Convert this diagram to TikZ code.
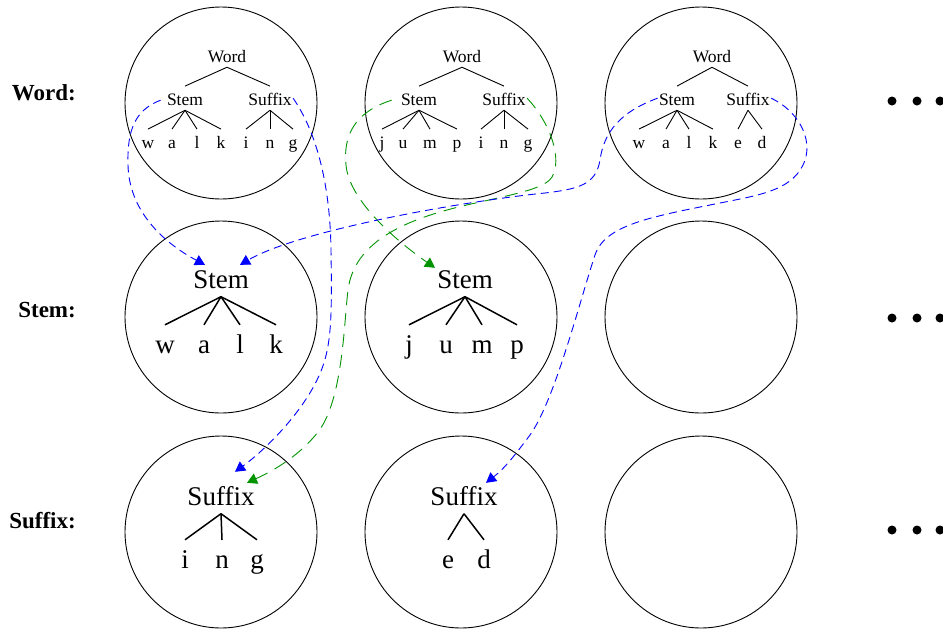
\documentclass[tikz,border=0pt]{standalone}
\usepackage{fontspec}
\setmainfont{Liberation Serif}
\usetikzlibrary{arrows.meta,calc}
\definecolor{linkblue}{rgb}{0,0,1}
\definecolor{linkgreen}{rgb}{0,0.58,0}
\begin{document}
\begin{tikzpicture}[x=1pt,y=-1pt,
  cell/.style={draw, circle, minimum size=192pt, inner sep=0pt, line width=0.9pt},
  small/.style={font=\fontsize{17.5}{20}\selectfont, inner sep=1.2pt, text height=17.5pt, text depth=3.85pt, anchor=base},
  big/.style={font=\fontsize{27}{30}\selectfont, inner sep=2pt, text height=26pt, text depth=6.5pt, anchor=base},
  rowlabel/.style={font=\fontsize{23}{25}\selectfont\bfseries, inner sep=0pt, anchor=base east},
  thinedge/.style={line width=0.9pt},
  thickedge/.style={line width=1.5pt},
  dotnode/.style={circle, fill=black, minimum size=9pt, inner sep=0pt},
  bluelink/.style={draw=linkblue, line width=0.9pt, dash pattern=on 8pt off 5pt, -{Triangle[length=10pt,width=11pt]}, linkblue},
  greenlink/.style={draw=linkgreen, line width=0.9pt, dash pattern=on 13pt off 8pt, -{Triangle[length=10pt,width=11pt]}, linkgreen}
]
\useasboundingbox (0,0) rectangle (943,630);

% circles
\foreach \c/\x in {1/221,2/461,3/701}{
  \node[cell] (r1c\c) at (\x,103) {};
  \node[cell] (r2c\c) at (\x,317) {};
  \node[cell] (r3c\c) at (\x,532) {};
}

% row labels
\node[rowlabel] (lword) at (76,100) {Word:};
\node[rowlabel] (lstem) at (76,317) {Stem:};
\node[rowlabel] (lsuffix) at (76,528) {Suffix:};

% dots
\foreach \y [count=\r] in {101,318,530}{
  \node[dotnode] (dA\r) at (892,\y) {};
  \node[dotnode] (dB\r) at (917,\y) {};
  \node[dotnode] (dC\r) at (940,\y) {};
}

% ---- row 1, column 1: walking
\node[small] (w1) at (227,62) {Word};
\node[small] (st1) at (185,105) {Stem};
\node[small] (sf1) at (270,105) {Suffix};
\draw[thinedge] (w1.south) -- (st1.north);
\draw[thinedge] (w1.south) -- (sf1.north);
\foreach \l/\x [count=\i] in {w/148,a/172,l/197,k/221}{
  \node[small] (ma\i) at (\x,148) {\l};
  \draw[thinedge] (st1.south) -- (ma\i.north);
}
\foreach \l/\x [count=\i] in {i/246,n/270,g/293}{
  \node[small] (mb\i) at (\x,148) {\l};
  \draw[thinedge] (sf1.south) -- (mb\i.north);
}

% ---- row 1, column 2: jumping
\node[small] (w2) at (462,62) {Word};
\node[small] (st2) at (419,105) {Stem};
\node[small] (sf2) at (504,105) {Suffix};
\draw[thinedge] (w2.south) -- (st2.north);
\draw[thinedge] (w2.south) -- (sf2.north);
\foreach \l/\x [count=\i] in {j/382,u/403,m/430,p/457}{
  \node[small] (mc\i) at (\x,148) {\l};
  \draw[thinedge] (st2.south) -- (mc\i.north);
}
\foreach \l/\x [count=\i] in {i/481,n/504,g/528}{
  \node[small] (md\i) at (\x,148) {\l};
  \draw[thinedge] (sf2.south) -- (md\i.north);
}

% ---- row 1, column 3: walked
\node[small] (w3) at (712,62) {Word};
\node[small] (st3) at (677,105) {Stem};
\node[small] (sf3) at (748,105) {Suffix};
\draw[thinedge] (w3.south) -- (st3.north);
\draw[thinedge] (w3.south) -- (sf3.north);
\foreach \l/\x [count=\i] in {w/639,a/666,l/689,k/713}{
  \node[small] (me\i) at (\x,148) {\l};
  \draw[thinedge] (st3.south) -- (me\i.north);
}
\foreach \l/\x [count=\i] in {e/738,d/762}{
  \node[small] (mf\i) at (\x,148) {\l};
  \draw[thinedge] (sf3.south) -- (mf\i.north);
}

% ---- row 2: stems
\node[big] (st21) at (221,288) {Stem};
\foreach \l/\x [count=\i] in {w/165,a/204,l/240,k/276}{
  \node[big] (sa\i) at (\x,353) {\l};
  \draw[thickedge] (st21.south) -- (sa\i.north);
}
\node[big] (st22) at (465,288) {Stem};
\foreach \l/\x [count=\i] in {j/409,u/446,m/482,p/517}{
  \node[big] (sb\i) at (\x,353) {\l};
  \draw[thickedge] (st22.south) -- (sb\i.north);
}

% ---- row 3: suffixes
\node[big] (sf31) at (221,505) {Suffix};
\foreach \l/\x [count=\i] in {i/185,n/222,g/257}{
  \node[big] (xa\i) at (\x,568) {\l};
  \draw[thickedge] (sf31.south) -- (xa\i.north);
}
\node[big] (sf32) at (464,505) {Suffix};
\foreach \l/\x [count=\i] in {e/448,d/484}{
  \node[big] (xb\i) at (\x,568) {\l};
  \draw[thickedge] (sf32.south) -- (xb\i.north);
}

% ---- links
\draw[bluelink] ($(st1.west)+(-5,2)$) .. controls (135,110) and (127,130) .. (128,165)
  .. controls (129,210) and (162,242) .. ($(st21.north)+(-16,5)$);
\draw[bluelink] (sf1.east) .. controls (315,130) and (330,180) .. (331,250)
  .. controls (332,320) and (332,350) .. (317,380)
  .. controls (300,415) and (265,450) .. ($(sf31.north)+(14,-5)$);
\draw[greenlink] ($(st2.west)+(-8,2)$) .. controls (355,112) and (343,135) .. (346,165)
  .. controls (349,200) and (395,240) .. ($(st22.north)+(-30,8)$);
\draw[greenlink] (sf2.east) .. controls (552,125) and (562,160) .. (552,177)
  .. controls (545,188) and (520,193) .. (480,202)
  .. controls (420,215) and (355,235) .. (348,290)
  .. controls (344,322) and (343,400) .. (318,432)
  .. controls (300,455) and (275,470) .. ($(sf31.north)+(26,6)$);
\draw[bluelink] (st3.west) .. controls (620,112) and (604,132) .. (600,160)
  .. controls (596,185) and (578,189) .. (545,193)
  .. controls (465,201) and (300,230) .. ($(st21.north)+(19,5)$);
\draw[bluelink] (sf3.east) .. controls (800,112) and (812,140) .. (805,160)
  .. controls (795,190) and (760,195) .. (720,203)
  .. controls (650,217) and (605,225) .. (595,255)
  .. controls (580,300) and (555,400) .. (530,435)
  .. controls (515,455) and (505,468) .. ($(sf32.north)+(22,6)$);
\end{tikzpicture}
\end{document}
